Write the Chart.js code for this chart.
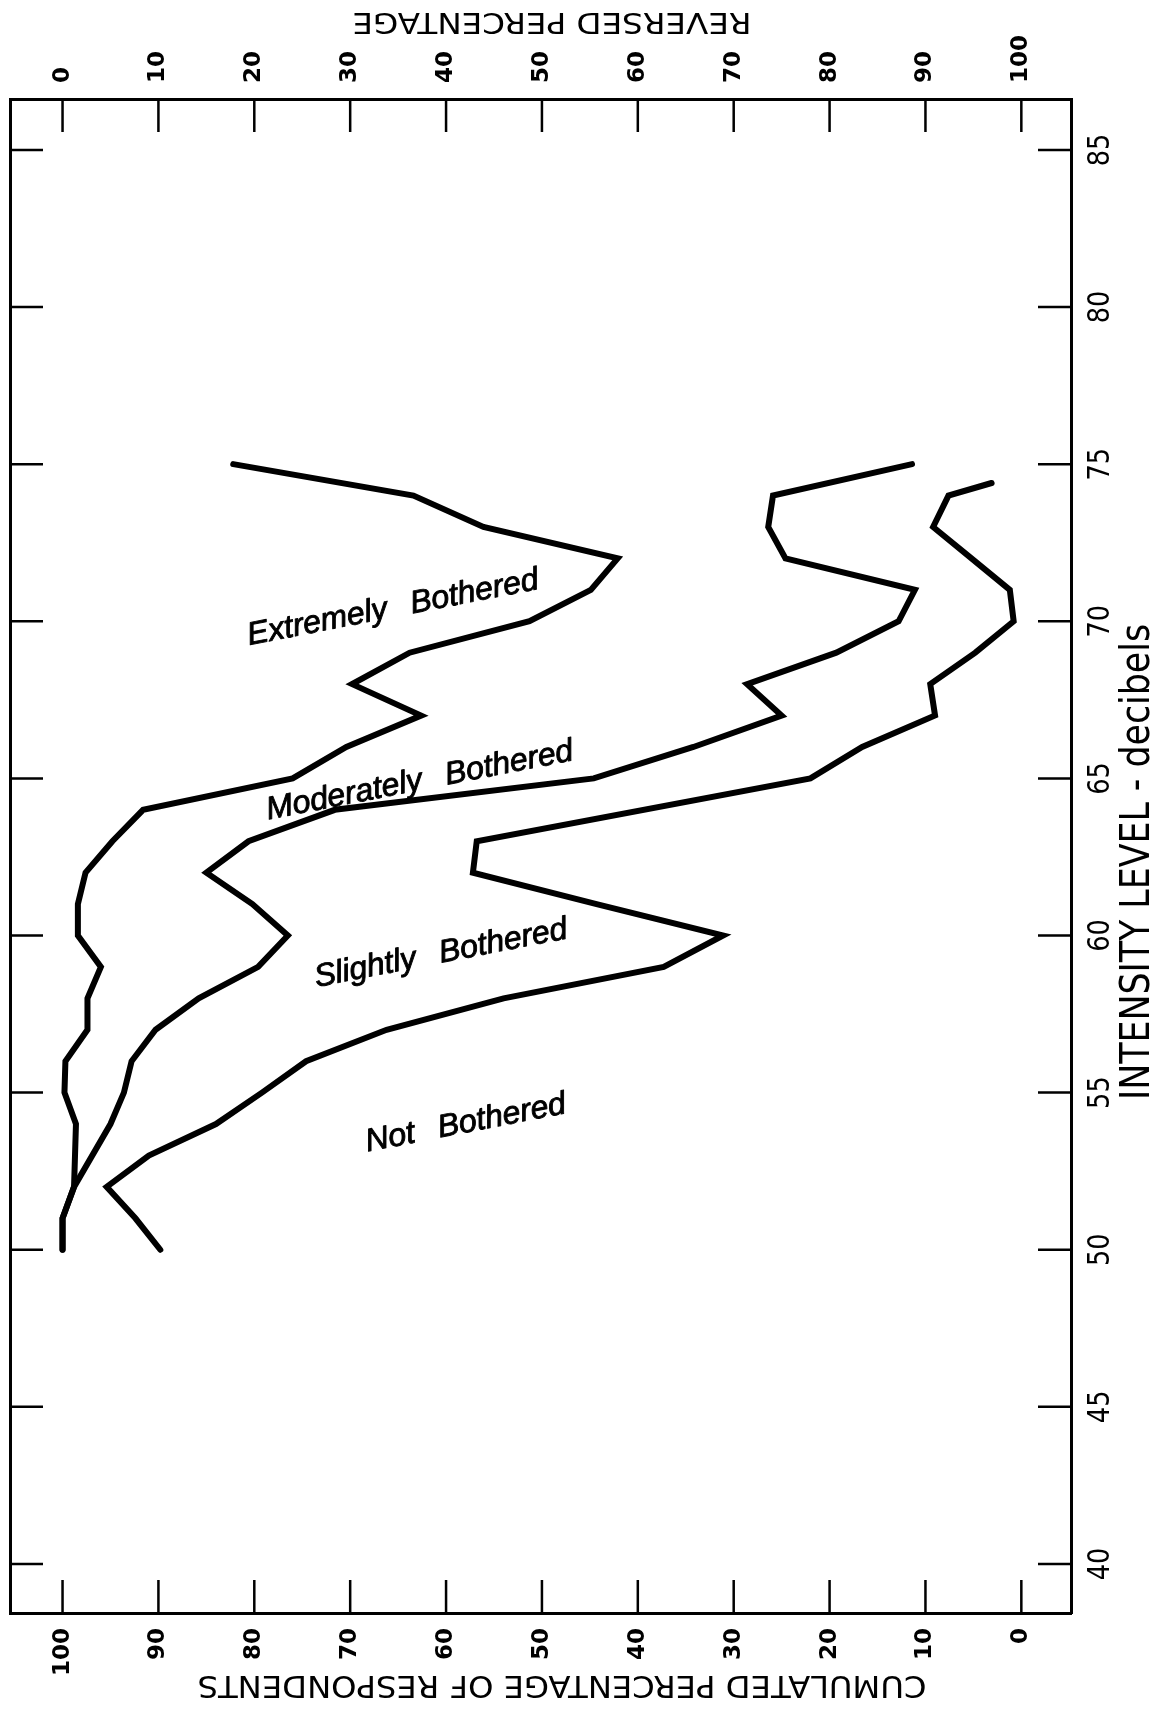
<!DOCTYPE html>
<html>
<head>
<meta charset="utf-8">
<script src="https://cdn.jsdelivr.net/npm/chart.js@4.4.1/dist/chart.umd.min.js"></script>
<style>
  html, body { margin: 0; padding: 0; background: #fff; }
  #wrap { width: 1151px; height: 1719px; }
</style>
</head>
<body>
<div id="wrap"><canvas id="chart" width="1151" height="1719"></canvas></div>
<script>
// Axis ticks
const intensityTicks = [40, 45, 50, 55, 60, 65, 70, 75, 80, 85];
const percentTicks = [0, 10, 20, 30, 40, 50, 60, 70, 80, 90, 100];

// Cumulated percentage of respondents at each intensity level (dB)
// Not, slightly or moderately bothered (boundary of "Extremely Bothered")
const throughModeratelyDb  = [50, 51, 52, 54, 55, 56, 57, 58, 59, 60, 61, 62, 63, 64, 65, 66, 67, 68, 69, 70, 71, 72, 73, 74, 75];
const throughModeratelyPct = [100, 100, 98.8, 98.6, 99.8, 99.7, 97.4, 97.4, 96.0, 98.4, 98.4, 97.6, 94.8, 91.6, 76.0, 70.4, 62.6, 69.8, 63.8, 51.3, 44.9, 42.1, 56.1, 63.4, 82.2];

// Not or slightly bothered (boundary of "Moderately Bothered")
const throughSlightlyDb  = [50, 51, 52, 54, 55, 56, 57, 58, 59, 60, 61, 62, 63, 64, 65, 66, 67, 68, 69, 70, 71, 72, 73, 74, 75];
const throughSlightlyPct = [100, 100, 98.8, 95.0, 93.6, 92.8, 90.3, 85.8, 79.6, 76.5, 80.2, 85.0, 80.6, 71.6, 44.6, 34.2, 25.0, 28.6, 19.3, 12.8, 11.1, 24.6, 26.4, 25.9, 11.4];

// Not bothered (boundary of "Slightly Bothered")
const notBotheredDb  = [50, 51, 52, 53, 54, 55, 56, 57, 58, 59, 60, 61, 62, 63, 65, 66, 67, 68, 69, 70, 71, 72, 73, 74, 74.4];
const notBotheredPct = [89.8, 92.4, 95.4, 91.0, 84.0, 79.2, 74.6, 66.2, 54.0, 37.3, 31.1, 44.3, 57.2, 56.8, 22.0, 16.6, 9.0, 9.5, 4.8, 0.8, 1.2, 5.2, 9.2, 7.6, 3.1];

// Region names and where they sit (percentage, dB)
const regionLabels = ['Extremely Bothered', 'Moderately Bothered', 'Slightly Bothered', 'Not Bothered'];
const regionAnchorPct = [65.6, 62.8, 60.6, 58.0];
const regionAnchorDb = [70.5, 65.0, 59.5, 54.1];

const titleTop = 'REVERSED PERCENTAGE';
const titleBottom = 'CUMULATED PERCENTAGE OF RESPONDENTS';
const titleRight = 'INTENSITY LEVEL - decibels';

// Axis ranges (the frame extends a little past the labelled ticks)
const pctMin = -5.18, pctMax = 105.48;
const dbMin = 38.44, dbMax = 86.62;

function toPoints(dbs, pcts) {
  return dbs.map((d, i) => ({ x: pcts[i], y: d }));
}

function drawFitted(ctx, text, cx, cy, angle, width, font) {
  ctx.save();
  ctx.font = font;
  ctx.textAlign = 'center';
  ctx.textBaseline = 'alphabetic';
  const m = ctx.measureText(text);
  ctx.translate(cx, cy);
  ctx.rotate(angle);
  ctx.scale(width / m.width, 1);
  ctx.fillText(text, 0, m.actualBoundingBoxAscent / 2);
  ctx.restore();
}

const decorations = {
  id: 'decorations',
  afterDraw(chart) {
    const { ctx, chartArea: a, scales } = chart;
    ctx.save();

    // tick marks pointing into the frame
    const L = 33;
    ctx.strokeStyle = '#000';
    ctx.lineWidth = 2.5;
    ctx.beginPath();
    for (const t of scales.x.ticks) {
      const px = scales.x.getPixelForValue(t.value);
      ctx.moveTo(px, a.bottom); ctx.lineTo(px, a.bottom - L);
    }
    for (const t of scales.xTop.ticks) {
      const px = scales.xTop.getPixelForValue(t.value);
      ctx.moveTo(px, a.top); ctx.lineTo(px, a.top + L);
    }
    for (const t of scales.y.ticks) {
      const py = scales.y.getPixelForValue(t.value);
      ctx.moveTo(a.left, py); ctx.lineTo(a.left + L, py);
    }
    for (const t of scales.yRight.ticks) {
      const py = scales.yRight.getPixelForValue(t.value);
      ctx.moveTo(a.right, py); ctx.lineTo(a.right - L, py);
    }
    ctx.stroke();

    // intensity labels on the right, reading upward
    ctx.fillStyle = '#000';
    ctx.font = '31px "Liberation Sans Narrow", "DejaVu Sans Condensed", "Liberation Sans", sans-serif';
    ctx.textAlign = 'center';
    ctx.textBaseline = 'alphabetic';
    for (const t of scales.yRight.ticks) {
      const py = scales.yRight.getPixelForValue(t.value);
      const label = String(t.value);
      const m = ctx.measureText(label);
      ctx.save();
      ctx.translate(a.right + 27, py);
      ctx.rotate(-Math.PI / 2);
      ctx.scale(0.92, 1);
      ctx.fillText(label, 0, m.actualBoundingBoxAscent / 2);
      ctx.restore();
    }

    // axis titles
    drawFitted(ctx, titleRight, a.right + 62, 862, -Math.PI / 2, 476,
      '40px "Liberation Sans Narrow", "DejaVu Sans Condensed", "Liberation Sans", sans-serif');
    drawFitted(ctx, titleTop, 552, 23, Math.PI, 399, '29px "DejaVu Sans", sans-serif');
    drawFitted(ctx, titleBottom, 562, 1687, Math.PI, 729, '31px "DejaVu Sans", sans-serif');

    // region names
    ctx.font = 'italic 32px "Liberation Sans", Arial, sans-serif';
    if ('wordSpacing' in ctx) ctx.wordSpacing = '15px';
    ctx.textAlign = 'center';
    ctx.textBaseline = 'alphabetic';
    ctx.lineWidth = 0.9;
    ctx.lineJoin = 'round';
    regionLabels.forEach((txt, i) => {
      const px = scales.x.getPixelForValue(regionAnchorPct[i]);
      const py = scales.y.getPixelForValue(regionAnchorDb[i]);
      ctx.save();
      ctx.translate(px, py);
      ctx.rotate(-11 * Math.PI / 180);
      ctx.fillText(txt, 0, 11.5);
      ctx.strokeText(txt, 0, 11.5);
      ctx.restore();
    });

    ctx.restore();
  }
};

const lineStyle = {
  showLine: true,
  borderColor: '#000',
  borderWidth: 6,
  pointRadius: 0,
  pointHoverRadius: 0,
  borderJoinStyle: 'miter',
  borderCapStyle: 'round',
  tension: 0,
  fill: false,
  xAxisID: 'x',
  yAxisID: 'y'
};

const percentTickFont = { family: '"DejaVu Sans", sans-serif', size: 23, weight: 'bold' };
const frameBorder = { display: true, color: '#000', width: 3 };

new Chart(document.getElementById('chart'), {
  type: 'scatter',
  data: {
    datasets: [
      Object.assign({ label: 'Not, slightly or moderately bothered', data: toPoints(throughModeratelyDb, throughModeratelyPct) }, lineStyle),
      Object.assign({ label: 'Not or slightly bothered', data: toPoints(throughSlightlyDb, throughSlightlyPct) }, lineStyle),
      Object.assign({ label: 'Not bothered', data: toPoints(notBotheredDb, notBotheredPct) }, lineStyle)
    ]
  },
  options: {
    responsive: false,
    animation: false,
    devicePixelRatio: 1,
    events: [],
    layout: { padding: 0 },
    plugins: { legend: { display: false }, tooltip: { enabled: false } },
    scales: {
      x: {
        type: 'linear', position: 'bottom', reverse: true, min: pctMin, max: pctMax,
        afterBuildTicks: s => { s.ticks = percentTicks.map(v => ({ value: v })); },
        afterFit: s => { s.height = 106; },
        grid: { display: false, drawTicks: false },
        border: frameBorder,
        ticks: { minRotation: 90, maxRotation: 90, padding: 15, color: '#000', font: percentTickFont, callback: v => String(v) }
      },
      xTop: {
        type: 'linear', position: 'top', min: 100 - pctMax, max: 100 - pctMin,
        afterBuildTicks: s => { s.ticks = percentTicks.map(v => ({ value: v })); },
        afterFit: s => { s.height = 99; },
        grid: { display: false, drawTicks: false },
        border: frameBorder,
        ticks: { minRotation: 90, maxRotation: 90, padding: 16, labelOffset: 27.6, color: '#000', font: percentTickFont, callback: v => String(v) }
      },
      y: {
        type: 'linear', position: 'left', min: dbMin, max: dbMax,
        afterBuildTicks: s => { s.ticks = intensityTicks.map(v => ({ value: v })); },
        afterFit: s => { s.width = 10; },
        grid: { display: false, drawTicks: false },
        border: frameBorder,
        ticks: { display: false }
      },
      yRight: {
        type: 'linear', position: 'right', min: dbMin, max: dbMax,
        afterBuildTicks: s => { s.ticks = intensityTicks.map(v => ({ value: v })); },
        afterFit: s => { s.width = 80; },
        grid: { display: false, drawTicks: false },
        border: frameBorder,
        ticks: { display: false }
      }
    }
  },
  plugins: [decorations]
});
</script>
</body>
</html>
